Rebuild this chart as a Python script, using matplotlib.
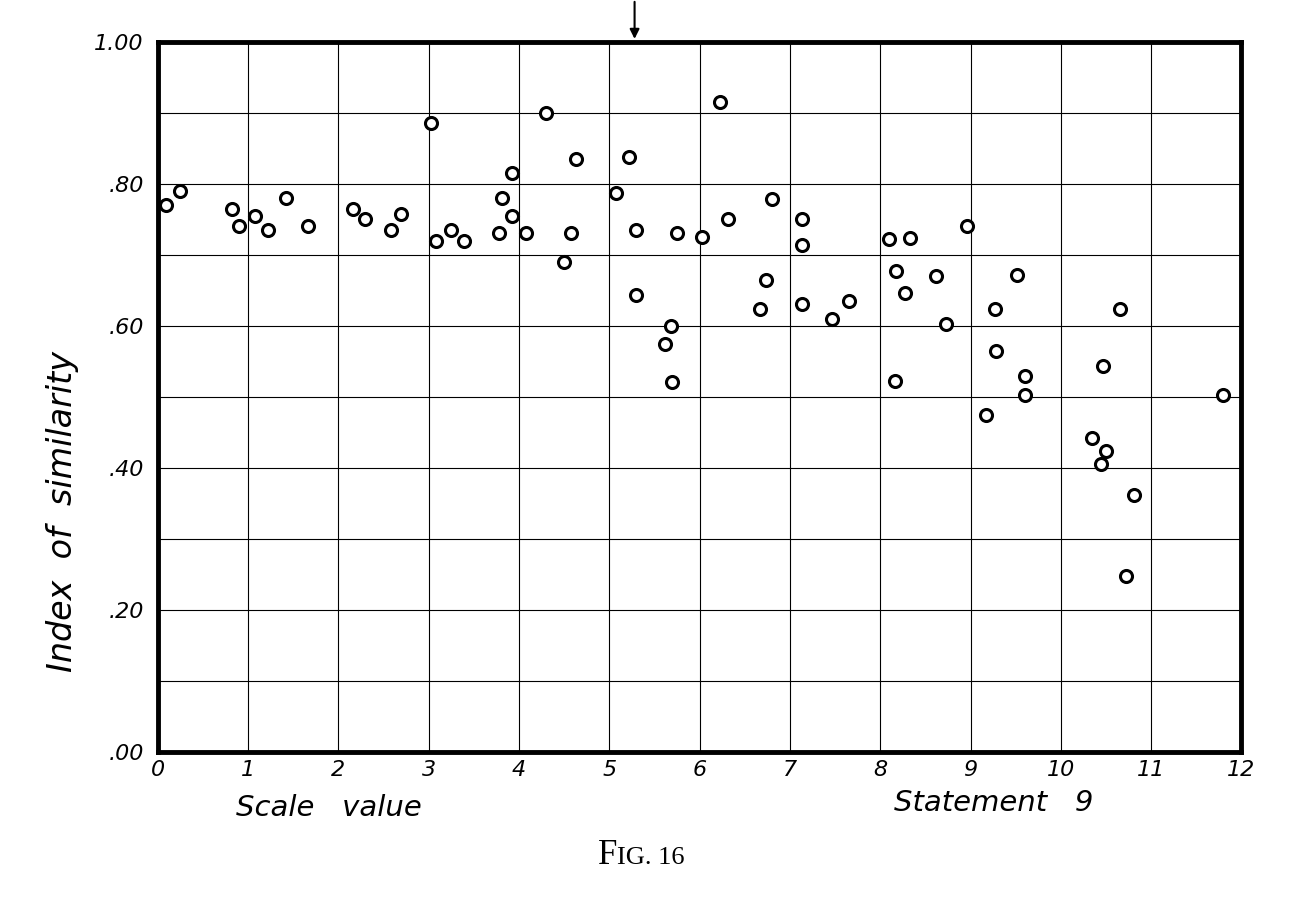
import numpy as np
import matplotlib.pyplot as plt

# scale value of each statement and its index of similarity with statement 9
scale_value = [0.09, 0.25, 0.82, 0.90, 1.08, 1.22, 1.42, 1.66,
               2.16, 2.29, 2.58, 2.69, 3.03, 3.08, 3.25, 3.39,
               3.78, 3.81, 3.92, 3.92, 4.08, 4.30, 4.50, 4.58,
               4.63, 5.07, 5.22, 5.30, 5.30, 5.62, 5.68, 5.69,
               5.75, 6.03, 6.23, 6.31, 6.67, 6.74, 6.80, 7.13,
               7.13, 7.13, 7.47, 7.66, 8.10, 8.18, 8.16, 8.28,
               8.33, 8.62, 8.73, 8.96, 9.17, 9.27, 9.28, 9.52,
               9.60, 9.60, 10.34, 10.45, 10.47, 10.50, 10.65, 10.72,
               10.81, 11.80]
similarity = [0.770, 0.790, 0.765, 0.740, 0.755, 0.735, 0.780, 0.740,
              0.765, 0.750, 0.735, 0.757, 0.885, 0.720, 0.735, 0.720,
              0.730, 0.780, 0.815, 0.755, 0.730, 0.900, 0.690, 0.730,
              0.835, 0.787, 0.837, 0.735, 0.643, 0.574, 0.600, 0.521,
              0.730, 0.725, 0.915, 0.750, 0.623, 0.665, 0.778, 0.751,
              0.714, 0.631, 0.610, 0.635, 0.722, 0.677, 0.522, 0.646,
              0.724, 0.670, 0.603, 0.740, 0.475, 0.623, 0.565, 0.672,
              0.530, 0.502, 0.442, 0.405, 0.543, 0.424, 0.623, 0.248,
              0.362, 0.503]

x_ticks = list(range(13))
y_ticks = [0.0, 0.2, 0.4, 0.6, 0.8, 1.0]
y_tick_labels = ['.00', '.20', '.40', '.60', '.80', '1.00']

hand = dict(family='DejaVu Sans', style='italic')

fig = plt.figure(figsize=(13.04, 9.06), dpi=100)
ax = fig.add_axes([0.121, 0.170, 0.831, 0.784])

ax.set_xlim(0, 12)
ax.set_ylim(0, 1.0)

# grid: every unit on x, every .10 on y
ax.set_xticks(x_ticks)
ax.set_yticks(np.arange(0, 1.01, 0.1), minor=True)
ax.set_yticks(y_ticks)
ax.grid(True, which='both', color='black', linewidth=0.8)
ax.set_axisbelow(True)
ax.tick_params(which='both', length=0)
ax.tick_params(axis='x', pad=6)
ax.tick_params(axis='y', pad=10)
ax.set_xticklabels([str(v) for v in x_ticks], fontsize=16, **hand)
ax.set_yticklabels(y_tick_labels, fontsize=16, **hand)

for s in ax.spines.values():
    s.set_linewidth(3.5)
    s.set_color('black')

ax.scatter(scale_value, similarity, s=75, facecolors='white',
           edgecolors='black', linewidths=2.2, zorder=3, clip_on=False)

# arrow marking the statement's own scale value
ax.annotate('', xy=(5.28, 1.0), xytext=(5.28, 1.06),
            arrowprops=dict(arrowstyle='-|>', color='black', lw=1.5,
                            mutation_scale=14),
            annotation_clip=False)

fig.text(0.048, 0.435, 'Index  of  similarity', rotation=90, fontsize=24,
         ha='center', va='center', **hand)
fig.text(0.252, 0.108, 'Scale   value', fontsize=21, ha='center', va='center', **hand)
fig.text(0.762, 0.114, 'Statement   9', fontsize=21, ha='center', va='center', **hand)

fig.text(0.4735, 0.046, 'F', fontsize=25, family='Liberation Serif',
         ha='right', va='baseline')
fig.text(0.4735, 0.046, 'IG. 16', fontsize=19, family='Liberation Serif',
         ha='left', va='baseline')

fig.savefig('out.png', dpi=100, facecolor='white')
